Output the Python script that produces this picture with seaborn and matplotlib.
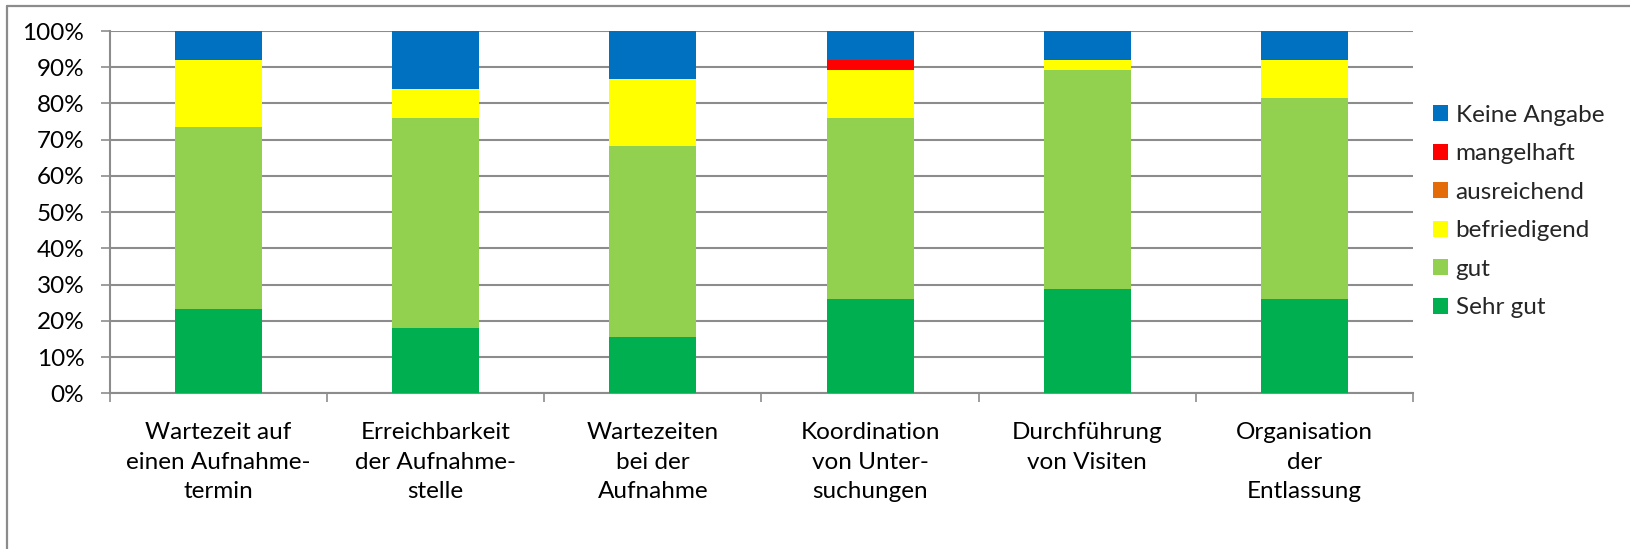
"""Stacked percentage bars for the patient survey (admission / ward organisation)."""

import matplotlib

matplotlib.use("Agg")
import matplotlib.pyplot as plt
import numpy as np
import pandas as pd
import seaborn as sns
from matplotlib.lines import Line2D
from matplotlib.patches import Patch
from matplotlib.ticker import FixedLocator, PercentFormatter

categories = [
    "Wartezeit auf\neinen Aufnahme-\ntermin",
    "Erreichbarkeit\nder Aufnahme-\nstelle",
    "Wartezeiten\nbei der\nAufnahme",
    "Koordination\nvon Unter-\nsuchungen",
    "Durchführung\nvon Visiten",
    "Organisation\nder\nEntlassung",
]

sehr_gut = [23.3, 18.1, 15.5, 26.1, 28.7, 26.1]
gut = [50.1, 58.0, 52.7, 50.0, 60.5, 55.3]
befriedigend = [18.5, 7.9, 18.5, 13.1, 2.8, 10.6]
ausreichend = [0.0, 0.0, 0.0, 0.0, 0.0, 0.0]
mangelhaft = [0.0, 0.0, 0.0, 2.8, 0.0, 0.0]
keine_angabe = [8.1, 16.0, 13.3, 8.0, 8.0, 8.0]

series_names = ["Sehr gut", "gut", "befriedigend", "ausreichend", "mangelhaft", "Keine Angabe"]
series_values = [sehr_gut, gut, befriedigend, ausreichend, mangelhaft, keine_angabe]
series_colors = ["#00B050", "#92D050", "#FFFF00", "#E36C09", "#FF0000", "#0070C0"]

GRID = "#8C8C8C"
FS = 17.5

sns.set_theme(style="white")
plt.rcParams["font.family"] = ["Lato", "DejaVu Sans"]

df = pd.DataFrame(dict(zip(series_names, series_values)))
cum = df[series_names].cumsum(axis=1)
cum["Kategorie"] = categories

fig = plt.figure(figsize=(16.31, 5.49), dpi=100)
ax = fig.add_axes([110 / 1631, 1 - 393.3 / 549, (1413 - 110) / 1631, (393.3 - 31) / 549])

# draw cumulative totals from the top down so each layer covers the one above
for name, color in reversed(list(zip(series_names, series_colors))):
    sns.barplot(
        data=cum, x="Kategorie", y=name, color=color, width=0.4,
        saturation=1, linewidth=0, ax=ax, zorder=3,
    )

ax.set_xlim(-0.5, len(categories) - 0.5)
ax.set_ylim(0, 100)
ax.set_xlabel("")
ax.set_ylabel("")
ax.yaxis.set_major_locator(FixedLocator(np.arange(0, 101, 10)))
ax.yaxis.set_major_formatter(PercentFormatter(decimals=0))
ax.grid(axis="y", color=GRID, linewidth=1.5, zorder=0)
ax.set_axisbelow(True)

for side in ["top", "right"]:
    ax.spines[side].set_visible(False)
for side in ["left", "bottom"]:
    ax.spines[side].set_color(GRID)
    ax.spines[side].set_linewidth(1.5)

ax.tick_params(axis="y", left=True, length=6.5, width=1.2, color=GRID, pad=12,
               labelsize=FS, labelcolor="black")
ax.tick_params(axis="x", which="major", bottom=False, pad=15, labelsize=FS,
               labelcolor="black")
ax.xaxis.set_minor_locator(FixedLocator(np.arange(-0.5, len(categories), 1.0)))
ax.tick_params(axis="x", which="minor", bottom=True, length=6.5, width=1.2, color=GRID)
for lbl in ax.get_xticklabels():
    lbl.set_linespacing(1.5)

handles = [Patch(facecolor=c, edgecolor="none") for c in reversed(series_colors)]
fig.legend(
    handles, list(reversed(series_names)), loc="upper left",
    bbox_to_anchor=(1423 / 1631, 1 - 95 / 549), frameon=False, fontsize=FS,
    handlelength=0.62, handleheight=0.62, handletextpad=0.32, labelspacing=0.72,
    borderaxespad=0,
)

# chart area frame (only the top and left edges are inside the picture)
fig.add_artist(Line2D([7 / 1631, 1], [1 - 6 / 549, 1 - 6 / 549], transform=fig.transFigure,
                      color=GRID, linewidth=1.6))
fig.add_artist(Line2D([7 / 1631, 7 / 1631], [0, 1 - 6 / 549], transform=fig.transFigure,
                      color=GRID, linewidth=1.6))

fig.savefig("out.png", dpi=100, facecolor="white")
